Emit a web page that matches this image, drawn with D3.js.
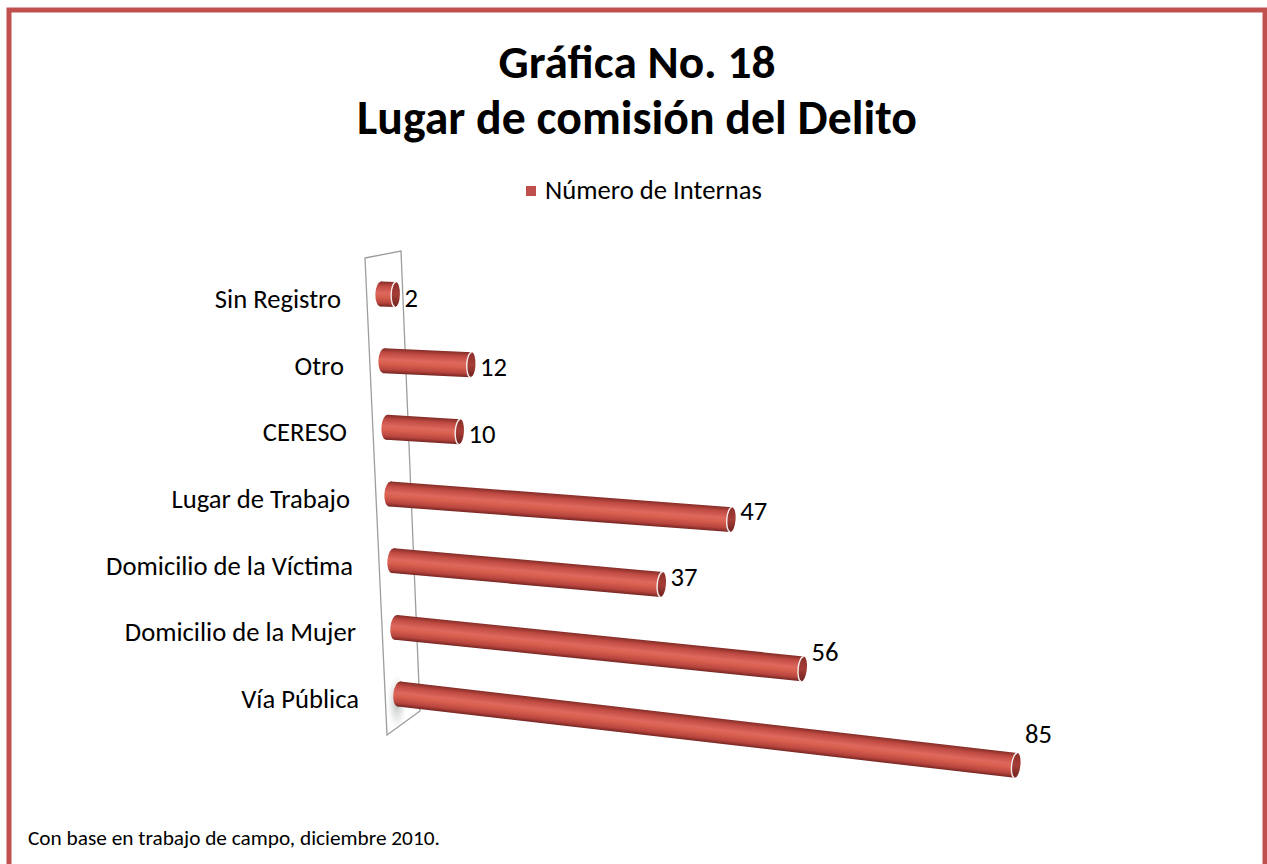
<!DOCTYPE html>
<html>
<head>
<meta charset="utf-8">
<script src="https://cdn.jsdelivr.net/npm/d3@7"></script>
<style>
  body { margin: 0; background: #fff; }
  svg { display: block; }
</style>
</head>
<body>
<script>
// datos de la grafica
var categories = ["Sin Registro", "Otro", "CERESO", "Lugar de Trabajo",
    "Domicilio de la Víctima", "Domicilio de la Mujer", "Vía Pública"];
var values = [2, 12, 10, 47, 37, 56, 85];
var seriesName = "Número de Internas";
var titleLines = ["Gráfica No. 18", "Lugar de comisión del Delito"];
var footnote = "Con base en trabajo de campo, diciembre 2010.";

window.onload = function () {
    var svg_width = 1267;
    var svg_height = 864;
    var font = "Carlito, Calibri, Lato, sans-serif";
    var red = "#c0504d";

    var svg = d3.select("body")
        .append("svg")
        .attr("width", svg_width)
        .attr("height", svg_height);

    // ajusta el tamaño de letra para que el texto tenga el ancho dado
    function fit(sel, w) {
        var cur = sel.node().getComputedTextLength();
        var fs = parseFloat(sel.attr("font-size"));
        sel.attr("font-size", (fs * w / cur).toFixed(2));
        return fs * w / cur;
    }

    var defs = svg.append("defs");
    var grad = defs.append("linearGradient")
        .attr("id", "bodyGrad")
        .attr("x1", 0).attr("y1", 0).attr("x2", 0).attr("y2", 1);
    [[0, "#832c27"], [0.18, "#bf4a42"], [0.45, "#de685d"], [0.6, "#d9604f"],
        [0.85, "#b8453e"], [1, "#752522"]].forEach(function (s) {
        grad.append("stop").attr("offset", s[0]).attr("stop-color", s[1]);
    });
    var capGrad = defs.append("linearGradient")
        .attr("id", "capGrad")
        .attr("x1", 0).attr("y1", 0).attr("x2", 0).attr("y2", 1);
    [[0, "#8c2f2a"], [0.5, "#a63d37"], [1, "#6f221f"]].forEach(function (s) {
        capGrad.append("stop").attr("offset", s[0]).attr("stop-color", s[1]);
    });
    var shadowGrad = defs.append("radialGradient").attr("id", "shadowGrad");
    shadowGrad.append("stop").attr("offset", 0).attr("stop-color", "#9aa39e").attr("stop-opacity", 0.7);
    shadowGrad.append("stop").attr("offset", 1).attr("stop-color", "#c8cdca").attr("stop-opacity", 0);

    // marco rojo
    svg.append("rect")
        .attr("x", 9).attr("y", 10)
        .attr("width", 1256).attr("height", 900)
        .attr("fill", "none")
        .attr("stroke", red)
        .attr("stroke-width", 5);

    // titulo
    var titleWidths = [277, 560];
    var titleBase = [78, 134];
    titleLines.forEach(function (t, i) {
        var tt = svg.append("text")
            .attr("x", 637).attr("y", titleBase[i])
            .attr("text-anchor", "middle")
            .attr("font-family", font)
            .attr("font-weight", "bold")
            .attr("font-size", 40)
            .attr("fill", "#000")
            .text(t);
        fit(tt, titleWidths[i]);
    });

    // leyenda
    svg.append("rect")
        .attr("x", 526).attr("y", 186)
        .attr("width", 10).attr("height", 10)
        .attr("fill", red);
    var leg = svg.append("text")
        .attr("x", 545).attr("y", 199)
        .attr("font-family", font)
        .attr("font-size", 21)
        .attr("fill", "#000")
        .text(seriesName);
    fit(leg, 217);

    // escalas
    var yStart = d3.scalePoint().domain(categories).range([294, 694]);
    var xStart = d3.scalePoint().domain(categories).range([381, 399]);
    var xLabel = d3.scalePoint().domain(categories).range([341, 359]);
    var len = d3.scaleLinear().domain([0, 85]).range([0, 617]);
    // punto de fuga de la perspectiva
    var vp = [-4500, 127];
    var r = 12.5;

    function geom(d, i) {
        var c = categories[i];
        var x0 = xStart(c), y0 = yStart(c);
        var slope = (y0 - vp[1]) / (x0 - vp[0]);
        var dx = len(d);
        var x1 = x0 + dx, y1 = y0 + dx * slope;
        return {
            x0: x0, y0: y0, x1: x1, y1: y1,
            L: Math.sqrt(dx * dx + (y1 - y0) * (y1 - y0)),
            ang: Math.atan(slope) * 180 / Math.PI
        };
    }

    // pared del fondo
    var wall = [[365, 258], [401, 251], [420, 711], [387, 735]];
    svg.append("path")
        .attr("d", "M" + wall.join("L") + "Z")
        .attr("fill", "none")
        .attr("stroke", "#9a9e9c")
        .attr("stroke-width", 1.3);

    // sombra en la base
    var gl = geom(values[6], 6);
    svg.append("ellipse")
        .attr("cx", gl.x0 - 2).attr("cy", gl.y0 + 8)
        .attr("rx", 10).attr("ry", 28)
        .attr("fill", "url(#shadowGrad)");

    // etiquetas de categoria
    var labSize = 21;
    var labs = svg.selectAll("text.cat")
        .data(categories)
        .enter()
        .append("text")
        .attr("class", "cat")
        .attr("x", function (d) { return xLabel(d); })
        .attr("y", function (d) { return yStart(d) + 14; })
        .attr("text-anchor", "end")
        .attr("font-family", font)
        .attr("font-size", labSize)
        .attr("fill", "#000")
        .text(function (d) { return d; });
    labSize = fit(labs.filter(function (d, i) { return i === 4; }), 247);
    labs.attr("font-size", labSize.toFixed(2));

    // cilindros
    var bars = svg.selectAll("g.bar")
        .data(values)
        .enter()
        .append("g")
        .attr("class", "bar")
        .attr("transform", function (d, i) {
            var g = geom(d, i);
            return "translate(" + g.x0 + "," + g.y0 + ") rotate(" + g.ang + ")";
        });

    bars.append("ellipse")
        .attr("cx", 0).attr("cy", 0)
        .attr("rx", r * 0.45).attr("ry", r)
        .attr("fill", "url(#bodyGrad)");
    bars.append("rect")
        .attr("x", 0).attr("y", -r)
        .attr("width", function (d, i) { return geom(d, i).L; })
        .attr("height", 2 * r)
        .attr("fill", "url(#bodyGrad)");
    bars.append("ellipse")
        .attr("cx", function (d, i) { return geom(d, i).L; })
        .attr("cy", 0)
        .attr("rx", r * 0.35).attr("ry", r)
        .attr("fill", "url(#capGrad)");
    bars.append("path")
        .attr("d", function (d, i) {
            var L = geom(d, i).L;
            return "M" + L + "," + (-r) + " A" + (r * 0.35) + "," + r + " 0 0 0 " + L + "," + r;
        })
        .attr("fill", "none")
        .attr("stroke", "#f4eeee")
        .attr("stroke-width", 1.4);

    // etiquetas de valor
    svg.selectAll("text.val")
        .data(values)
        .enter()
        .append("text")
        .attr("class", "val")
        .attr("x", function (d, i) { return geom(d, i).x1 + 9; })
        .attr("y", function (d, i) {
            var g = geom(d, i);
            return (g.y0 + g.y1) / 2 + 13;
        })
        .attr("font-family", font)
        .attr("font-size", labSize.toFixed(2))
        .attr("fill", "#000")
        .text(function (d) { return d; });

    // nota
    var fn = svg.append("text")
        .attr("x", 28).attr("y", 845)
        .attr("font-family", font)
        .attr("font-size", 16)
        .attr("fill", "#000")
        .text(footnote);
    fit(fn, 412);
};
</script>
</body>
</html>
